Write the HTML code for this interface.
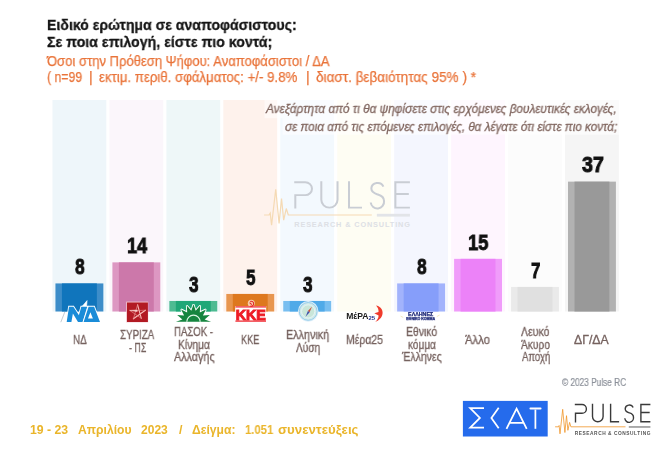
<!DOCTYPE html>
<html lang="el"><head><meta charset="utf-8"><title>Pulse RC</title>
<style>
html,body{margin:0;padding:0;background:#fff}
#c{position:relative;width:667px;height:451px;overflow:hidden;background:#fff;font-family:"Liberation Sans", sans-serif}
.t{position:absolute;white-space:pre;line-height:1;transform-origin:0 0;display:block;will-change:transform}
.b{position:absolute}
svg{position:absolute;left:0;top:0;overflow:visible}
.lt{stroke:var(--lt);stroke-width:var(--lw)}.ol{stroke:var(--ol);stroke-width:var(--ow)}.gb{fill:var(--gb)}.rc{fill:var(--rc)}
</style></head><body><div id="c">
<svg width="667" height="451" viewBox="0 0 667 451"><rect x="52.50" y="100.0" width="53.8" height="211.50" fill="#eef6fa"/><rect x="109.45" y="100.0" width="53.8" height="211.50" fill="#fbf6fb"/><rect x="166.40" y="100.0" width="53.8" height="211.50" fill="#eef7f8"/><rect x="223.35" y="100.0" width="53.8" height="211.50" fill="#fef2ec"/><rect x="280.30" y="100.0" width="53.8" height="211.50" fill="#f3f9fe"/><rect x="337.25" y="100.0" width="53.8" height="211.50" fill="#fefdf3"/><rect x="394.20" y="100.0" width="53.8" height="211.50" fill="#f4f6fe"/><rect x="451.15" y="100.0" width="53.8" height="211.50" fill="#fef5fe"/><rect x="508.10" y="100.0" width="53.8" height="211.50" fill="#fcfcfc"/><rect x="565.05" y="100.0" width="53.8" height="211.50" fill="#f5f5f5"/></svg>
<svg width="667" height="451" viewBox="0 0 667 451">
<defs>
<g id="pl" fill="none" stroke-linecap="butt" stroke-linejoin="round">
<path class="lt" d="M0,17.9 V8.8 H6.5 A4.4,4.4 0 0 0 6.5,0 H-0.7 M17,-0.7 V12 A5.3,5.3 0 0 0 27.6,12 V-0.7 M35.1,-0.7 V17.3 H43.6 M57.6,3 A4.1,3.9 0 0 0 49.7,4.2 C49.7,7.3 52.3,7.9 54,8.4 C56.4,9.1 58,10.2 58,12.8 A4.3,4.5 0 0 1 49.3,13.8 M74.9,0 H65.4 V17.3 H74.9 M65.4,8 H74.2" stroke-linejoin="miter"/>
<path class="ol" d="M-20.4,22.3 H-17.2 L-16.4,21 L-15.5,29.3 L-12.8,4.8 L-10.6,28 L-9,11.2 L-7.6,25.8 L-5.9,17.9 L-4.6,22.3 H50" stroke-linejoin="miter"/>
<rect class="gb" x="53.3" y="21.5" width="21.6" height="1.9" stroke="none"/>
<text class="rc" x="-0.7" y="30.2" font-family="Liberation Sans, sans-serif" font-size="4.8" font-weight="700" textLength="75.6" lengthAdjust="spacing" stroke="none">RESEARCH &amp; CONSULTING</text>
</g>
</defs>
<g transform="translate(295.3,182.2) scale(1.53,1.47)">
<use href="#pl" style="--lt:#c9cdd4;--ol:#f5dab4;--gb:#e2e4e8;--rc:#dde0e5;--lw:1.33;--ow:0.8"/>
</g>
</svg>
<svg width="667" height="451" viewBox="0 0 667 451"><path d="M264.5,99.5 H619.5 V134.8 H282.5 V118.2 H264.5 Z" fill="#fff" fill-opacity="0.55"/></svg>
<svg width="667" height="451" viewBox="0 0 667 451"><rect x="55.45" y="283.42" width="47.9" height="28.08" fill="#3d8dc9"/><rect x="61.95" y="283.42" width="34.90" height="28.08" fill="#1075bc"/><rect x="112.40" y="262.36" width="47.9" height="49.14" fill="#dd97c2"/><rect x="118.90" y="262.36" width="34.90" height="49.14" fill="#cc78aa"/><rect x="169.35" y="300.97" width="47.9" height="10.53" fill="#4dbb92"/><rect x="175.85" y="300.97" width="34.90" height="10.53" fill="#1fa777"/><rect x="226.30" y="293.95" width="47.9" height="17.55" fill="#e8964f"/><rect x="232.80" y="293.95" width="34.90" height="17.55" fill="#de781e"/><rect x="283.25" y="300.97" width="47.9" height="10.53" fill="#78bef0"/><rect x="289.75" y="300.97" width="34.90" height="10.53" fill="#50aae8"/><rect x="397.15" y="283.42" width="47.9" height="28.08" fill="#a2b3fc"/><rect x="403.65" y="283.42" width="34.90" height="28.08" fill="#869efa"/><rect x="454.10" y="258.85" width="47.9" height="52.65" fill="#f09cfa"/><rect x="460.60" y="258.85" width="34.90" height="52.65" fill="#ec82f8"/><rect x="511.05" y="286.93" width="47.9" height="24.57" fill="#eaeaea"/><rect x="517.55" y="286.93" width="34.90" height="24.57" fill="#e0e0e0"/><rect x="568.00" y="181.63" width="47.9" height="129.87" fill="#b2b2b2"/><rect x="574.50" y="181.63" width="34.90" height="129.87" fill="#999999"/></svg>
<svg width="667" height="451" viewBox="0 0 667 451" style="will-change:transform">
<!-- ND -->
<g>
<path d="M82.3,306.2 L87.1,300.6 L86.6,306.2 Z" fill="#fff" stroke="#fff" stroke-width="0.6"/>
<g fill="#1a8cd8" stroke="#fff" stroke-width="1.7" paint-order="stroke" stroke-linejoin="miter">
<path d="M66.7,321.9 L69,306.7 L73.4,306.7 L78.9,315.2 L81.3,306.7 L87.2,306.7 L82.6,321.9 L78,321.9 L72.9,313.6 L71.4,321.9 Z"/>
<path d="M83.6,321.9 L88.6,306.7 L94.1,306.7 L100,321.9 Z M88,318.4 L92.9,318.4 L90.4,312.3 Z" fill-rule="evenodd"/>
</g>
<path d="M64.8,312 L60.8,322.2" stroke="#aab4be" stroke-width="0.7" fill="none"/>
</g>
<!-- SYRIZA -->
<rect x="126.2" y="301.6" width="22" height="20.8" fill="#f3c3cd"/>
<rect x="127" y="302.5" width="20.9" height="19.5" fill="#b21a23"/>
<g fill="none" stroke="#f8bdb9" stroke-linecap="round" stroke-linejoin="round">
<path d="M137.6,304.8 L141.3,318.3 M145.4,310.2 L133.4,318.8" stroke-width="1.1"/>
<path d="M133.4,318.8 L137.6,304.8 M141.3,318.3 L129.8,310.5" stroke-width="0.7" stroke="#e58f8d"/>
</g>
<path d="M129.7,310.4 L137.4,310 L137.2,311.6 Z" fill="#fbd6d2" stroke="#fbd6d2" stroke-width="0.5" stroke-linejoin="round"/>
<path d="M137.4,310.6 L145.4,310.2" stroke="#e58f8d" stroke-width="0.6" fill="none"/>
<!-- PASOK -->
<g>
<path d="M175.9,321.8 L182.4,319.6 L177.2,315.1 L184.1,315.5 L181.1,309.4 L187.2,312.4 L186.8,305.5 L191.3,310.7 L193.5,304.2 L195.7,310.7 L200.2,305.5 L199.8,312.4 L205.9,309.4 L202.9,315.5 L209.8,315.1 L204.6,319.6 L211.1,321.8 Z" fill="#15853f" stroke="#fff" stroke-width="1.8" paint-order="stroke" stroke-linejoin="miter" stroke-miterlimit="1.6"/>
<path d="M186.8,321.8 A6.7,6.7 0 0 1 200.2,321.8" fill="none" stroke="#dcf7e6" stroke-width="1.2"/>
</g>
<!-- KKE -->
<rect x="235.2" y="306" width="31" height="16" fill="#fff"/>
<circle cx="251.3" cy="303.3" r="3.5" fill="#f8cda8"/>
<path d="M250.2,301.4 A2.5,2.5 0 1 1 250.2,306 M249.6,302.6 L251.8,304.6" stroke="#e3222a" stroke-width="1.05" fill="none"/>
<rect x="235.4" y="306.3" width="30.6" height="1.2" fill="#ee1c25"/>
<rect x="235.4" y="320.5" width="30.6" height="1.2" fill="#ee1c25"/>
<text x="235.7" y="319.7" font-family="Liberation Sans, sans-serif" font-weight="700" font-size="14.4" fill="#ee1c25" stroke="#ee1c25" stroke-width="1.0" textLength="30.1" lengthAdjust="spacingAndGlyphs">KKE</text>
<!-- Elliniki Lysi -->
<circle cx="308.2" cy="311.4" r="10.3" fill="#deeff9"/>
<circle cx="308.2" cy="311.4" r="8.9" fill="#d2ebe8" stroke="#8ec8ea" stroke-width="0.9"/>
<circle cx="308.2" cy="311.4" r="6.6" fill="#c9e6d9" stroke="#e6f4f8" stroke-width="0.9"/>
<path d="M312.1,306.5 L309.6,312.3 L307.9,311 Z" fill="#c9503c"/>
<path d="M305.6,316.8 L309.6,312.3 L307.9,311 Z" fill="#3c4da8"/>
<!-- MeRA25 -->
<text x="346.2" y="319.2" font-family="Liberation Sans, sans-serif" font-weight="700" font-size="8.4" fill="#1a1a1a" textLength="22.3" lengthAdjust="spacingAndGlyphs">ΜέΡΑ</text>
<text x="368.4" y="319.5" font-family="Liberation Sans, sans-serif" font-weight="700" font-size="4.8" fill="#27348b" textLength="6.6" lengthAdjust="spacingAndGlyphs">25</text>
<path d="M376,305.6 C379.6,306.2 382.4,308.8 382.6,312.4 C382.8,316.6 379.4,320.2 375.2,321.9 C377.4,319.8 378.6,317.6 378.6,315.4 L374.3,313.3 L378.5,312 C378.8,309.6 377.8,307.4 376,305.6 Z" fill="#f03b2c"/>
<!-- Ellines -->
<text x="408.1" y="316.1" font-family="Liberation Sans, sans-serif" font-weight="700" font-size="4.8" fill="#1f2a7a" stroke="#1f2a7a" stroke-width="0.25" textLength="25.1" lengthAdjust="spacingAndGlyphs">ΕΛΛΗΝΕΣ</text>
<text x="406.2" y="319.9" font-family="Liberation Sans, sans-serif" font-weight="700" font-size="3.2" fill="#1f2a7a" stroke="#1f2a7a" stroke-width="0.25" textLength="28.9" lengthAdjust="spacingAndGlyphs">ΕΘΝΙΚΟ ΚΟΜΜΑ</text>
<path d="M400.6,316.2 l2.6,1.2 M439.6,315 l-2.8,1.6" stroke="#efe3b0" stroke-width="0.8"/>
<!-- SKAI -->
<rect x="462.9" y="400.9" width="84.8" height="35.6" fill="#256bec"/>
<g fill="none" stroke="#fff" stroke-width="1.75" stroke-linejoin="miter" stroke-linecap="butt">
<path d="M484,408.2 H470.2 L479.9,417.9 L470.2,427.7 H484"/>
<path d="M498.7,407.7 L491.4,417.9 L498.7,428.2"/>
<path d="M506.5,428.8 L516.6,408.6 L526.7,428.8 M509.6,422.9 H523.7"/>
<path d="M535.4,409.6 V428.8"/>
<path d="M530.4,408.5 H540.6" stroke-linecap="round" stroke-width="1.9"/>
</g>
<!-- PULSE footer -->
<g transform="translate(575.5,404.5)">
<use href="#pl" style="--lt:#3a3a3a;--ol:#f0962a;--gb:#a8a8a8;--rc:#555;--lw:1.4;--ow:0.8"/>
</g>
</svg>
<div class="t" style="left:46.70px;top:17.01px;font-size:15.4px;color:#141414;transform:scaleX(0.9149);font-weight:700;-webkit-text-stroke:0.3px #141414">Ειδικό ερώτημα σε αναποφάσιστους:</div>
<div class="t" style="left:46.70px;top:33.86px;font-size:15.4px;color:#141414;transform:scaleX(0.9207);font-weight:700;-webkit-text-stroke:0.3px #141414">Σε ποια επιλογή, είστε πιο κοντά;</div>
<div class="t" style="left:46.90px;top:54.45px;font-size:14.0px;color:#e9743a;transform:scaleX(0.9322);-webkit-text-stroke:0.25px #e9743a">Όσοι στην Πρόθεση Ψήφου: Αναποφάσιστοι / ΔΑ</div>
<div class="t" style="left:46.80px;top:69.95px;font-size:14.0px;color:#e9743a;transform:scaleX(0.8779);-webkit-text-stroke:0.25px #e9743a">( n=99</div>
<div class="t" style="left:88.92px;top:69.95px;font-size:14.0px;color:#e9743a;transform:scaleX(0.9500);-webkit-text-stroke:0.25px #e9743a">|</div>
<div class="t" style="left:98.80px;top:69.95px;font-size:14.0px;color:#e9743a;transform:scaleX(0.9469);-webkit-text-stroke:0.25px #e9743a">εκτιμ. περιθ. σφάλματος: +/- 9.8%</div>
<div class="t" style="left:305.72px;top:69.95px;font-size:14.0px;color:#e9743a;transform:scaleX(0.9500);-webkit-text-stroke:0.25px #e9743a">|</div>
<div class="t" style="left:315.70px;top:69.95px;font-size:14.0px;color:#e9743a;transform:scaleX(0.9669);-webkit-text-stroke:0.25px #e9743a">διαστ. βεβαιότητας 95% ) *</div>
<div class="t" style="left:266.30px;top:102.50px;font-size:12.4px;color:#80665f;transform:scaleX(0.9528);font-style:italic;-webkit-text-stroke:0.3px #80665f">Ανεξάρτητα από τι θα ψηφίσετε στις ερχόμενες βουλευτικές εκλογές,</div>
<div class="t" style="left:284.70px;top:121.20px;font-size:12.4px;color:#80665f;transform:scaleX(0.9442);font-style:italic;-webkit-text-stroke:0.3px #80665f">σε ποια από τις επόμενες επιλογές, θα λέγατε ότι είστε πιο κοντά;</div>
<div class="t" style="left:30.20px;top:425.03px;font-size:11.9px;color:#eab52a;transform:scaleX(1.0316);font-weight:700">19 - 23</div>
<div class="t" style="left:78.00px;top:425.03px;font-size:11.9px;color:#eab52a;transform:scaleX(1.0219);font-weight:700">Απριλίου</div>
<div class="t" style="left:141.00px;top:425.03px;font-size:11.9px;color:#eab52a;transform:scaleX(1.0131);font-weight:700">2023</div>
<div class="t" style="left:179.26px;top:425.03px;font-size:11.9px;color:#eab52a;transform:scaleX(1.0500);font-weight:700">/</div>
<div class="t" style="left:191.50px;top:425.03px;font-size:11.9px;color:#eab52a;transform:scaleX(1.0198);font-weight:700">Δείγμα:</div>
<div class="t" style="left:244.80px;top:425.03px;font-size:11.9px;color:#eab52a;transform:scaleX(0.9474);font-weight:700">1.051</div>
<div class="t" style="left:278.00px;top:425.03px;font-size:11.9px;color:#eab52a;transform:scaleX(1.1144);font-weight:700">συνεντεύξεις</div>
<div class="t" style="left:562.20px;top:377.74px;font-size:10.0px;color:#8b9099;transform:scaleX(0.8279);-webkit-text-stroke:0.2px #8b9099">© 2023 Pulse RC</div>
<div class="t" style="left:73.10px;top:333.64px;font-size:12.0px;color:#76625f;transform:scaleX(0.8210);-webkit-text-stroke:0.3px #76625f">ΝΔ</div>
<div class="t" style="left:120.00px;top:329.44px;font-size:12.0px;color:#76625f;transform:scaleX(0.8148);-webkit-text-stroke:0.3px #76625f">ΣΥΡΙΖΑ</div>
<div class="t" style="left:128.60px;top:341.94px;font-size:12.0px;color:#76625f;transform:scaleX(0.7429);-webkit-text-stroke:0.3px #76625f">- ΠΣ</div>
<div class="t" style="left:174.40px;top:325.84px;font-size:12.0px;color:#76625f;transform:scaleX(0.7997);-webkit-text-stroke:0.3px #76625f">ΠΑΣΟΚ -</div>
<div class="t" style="left:177.80px;top:338.54px;font-size:12.0px;color:#76625f;transform:scaleX(0.8575);-webkit-text-stroke:0.3px #76625f">Κίνημα</div>
<div class="t" style="left:173.50px;top:351.04px;font-size:12.0px;color:#76625f;transform:scaleX(0.8979);-webkit-text-stroke:0.3px #76625f">Αλλαγής</div>
<div class="t" style="left:241.20px;top:333.64px;font-size:12.0px;color:#76625f;transform:scaleX(0.7620);-webkit-text-stroke:0.3px #76625f">ΚΚΕ</div>
<div class="t" style="left:286.10px;top:329.44px;font-size:12.0px;color:#76625f;transform:scaleX(0.8994);-webkit-text-stroke:0.3px #76625f">Ελληνική</div>
<div class="t" style="left:295.50px;top:341.94px;font-size:12.0px;color:#76625f;transform:scaleX(0.8440);-webkit-text-stroke:0.3px #76625f">Λύση</div>
<div class="t" style="left:346.00px;top:333.64px;font-size:12.0px;color:#76625f;transform:scaleX(0.8712);-webkit-text-stroke:0.3px #76625f">Μέρα25</div>
<div class="t" style="left:405.90px;top:325.84px;font-size:12.0px;color:#76625f;transform:scaleX(0.8669);-webkit-text-stroke:0.3px #76625f">Εθνικό</div>
<div class="t" style="left:407.50px;top:338.54px;font-size:12.0px;color:#76625f;transform:scaleX(0.8379);-webkit-text-stroke:0.3px #76625f">κόμμα</div>
<div class="t" style="left:401.60px;top:351.04px;font-size:12.0px;color:#76625f;transform:scaleX(0.8780);-webkit-text-stroke:0.3px #76625f">Έλληνες</div>
<div class="t" style="left:464.70px;top:333.64px;font-size:12.0px;color:#76625f;transform:scaleX(0.9428);-webkit-text-stroke:0.3px #76625f">Άλλο</div>
<div class="t" style="left:520.50px;top:325.84px;font-size:12.0px;color:#76625f;transform:scaleX(0.8778);-webkit-text-stroke:0.3px #76625f">Λευκό</div>
<div class="t" style="left:520.50px;top:338.54px;font-size:12.0px;color:#76625f;transform:scaleX(0.8481);-webkit-text-stroke:0.3px #76625f">Άκυρο</div>
<div class="t" style="left:521.60px;top:351.04px;font-size:12.0px;color:#76625f;transform:scaleX(0.7986);-webkit-text-stroke:0.3px #76625f">Αποχή</div>
<div class="t" style="left:574.20px;top:333.64px;font-size:12.0px;color:#76625f;transform:scaleX(1.0181);-webkit-text-stroke:0.3px #76625f">ΔΓ/ΔΑ</div>
<div class="t" style="left:75.05px;top:256.17px;font-size:22.5px;color:#111;transform:scaleX(0.7750);font-weight:700;-webkit-text-stroke:0.9px #111">8</div>
<div class="t" style="left:126.75px;top:235.11px;font-size:22.5px;color:#111;transform:scaleX(0.8070);font-weight:700;-webkit-text-stroke:0.9px #111">14</div>
<div class="t" style="left:189.00px;top:273.72px;font-size:22.5px;color:#111;transform:scaleX(0.7670);font-weight:700;-webkit-text-stroke:0.9px #111">3</div>
<div class="t" style="left:245.95px;top:266.70px;font-size:22.5px;color:#111;transform:scaleX(0.7670);font-weight:700;-webkit-text-stroke:0.9px #111">5</div>
<div class="t" style="left:302.90px;top:273.72px;font-size:22.5px;color:#111;transform:scaleX(0.7670);font-weight:700;-webkit-text-stroke:0.9px #111">3</div>
<div class="t" style="left:416.75px;top:256.17px;font-size:22.5px;color:#111;transform:scaleX(0.7750);font-weight:700;-webkit-text-stroke:0.9px #111">8</div>
<div class="t" style="left:468.35px;top:231.60px;font-size:22.5px;color:#111;transform:scaleX(0.8150);font-weight:700;-webkit-text-stroke:0.9px #111">15</div>
<div class="t" style="left:530.80px;top:259.68px;font-size:22.5px;color:#111;transform:scaleX(0.7511);font-weight:700;-webkit-text-stroke:0.9px #111">7</div>
<div class="t" style="left:581.50px;top:154.38px;font-size:22.5px;color:#111;transform:scaleX(0.8749);font-weight:700;-webkit-text-stroke:0.9px #111">37</div>
</div></body></html>
